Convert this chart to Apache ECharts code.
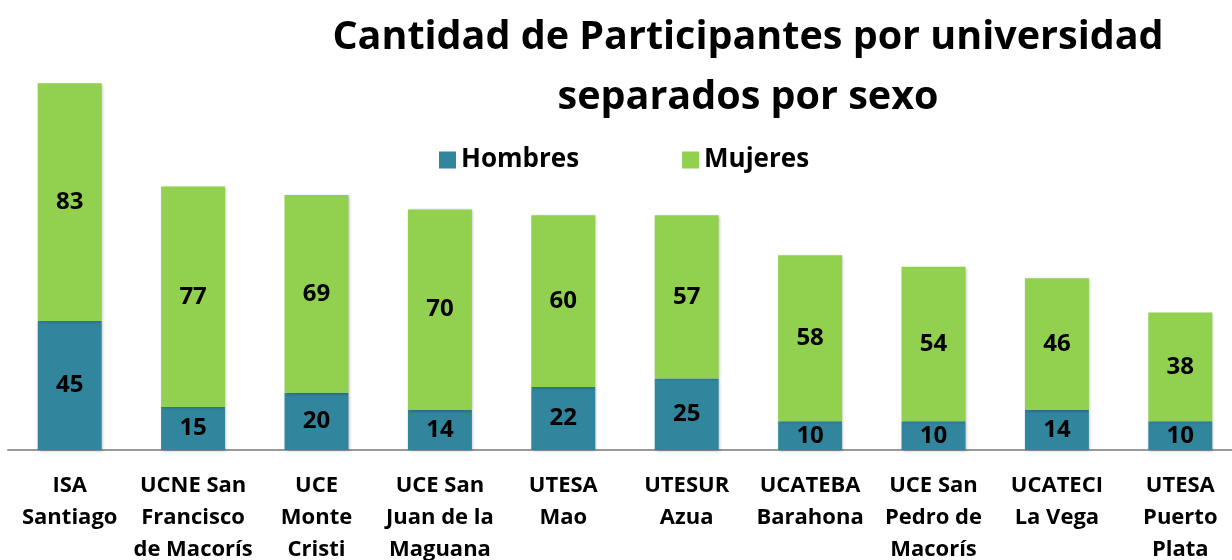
<!DOCTYPE html>
<html>
<head>
<meta charset="utf-8">
<script src="https://cdn.jsdelivr.net/npm/echarts@6/dist/echarts.min.js"></script>
<style>
    html, body { margin: 0; padding: 0; background: #fff; }
    #main { width: 1232px; height: 560px; }
</style>
</head>
<body>
<div id="main"></div>
<script>
var categories = ['ISA\nSantiago', 'UCNE San\nFrancisco\nde Macorís', 'UCE\nMonte\nCristi', 'UCE San\nJuan de la\nMaguana',
    'UTESA\nMao', 'UTESUR\nAzua', 'UCATEBA\nBarahona', 'UCE San\nPedro de\nMacorís', 'UCATECI\nLa Vega', 'UTESA\nPuerto\nPlata'];
var hombres = [45, 15, 20, 14, 22, 25, 10, 10, 14, 10];
var mujeres = [83, 77, 69, 70, 60, 57, 58, 54, 46, 38];

var fontName = '"Open Sans", sans-serif';

loadChart();

function loadChart() {
    var myChart = echarts.init(document.getElementById('main'));
    var labelStyle = {
        show: true,
        position: 'inside',
        color: '#000',
        fontFamily: fontName,
        fontWeight: 'bold',
        fontSize: 24
    };
    var option = {
        animation: false,
        title: {
            text: 'Cantidad de Participantes por universidad\nseparados por sexo',
            left: 743,
            top: 3,
            textAlign: 'center',
            textStyle: {
                fontFamily: fontName,
                fontWeight: 'bold',
                fontSize: 39.5,
                lineHeight: 60,
                color: '#000'
            }
        },
        legend: {
            data: ['Hombres', 'Mujeres'],
            left: 434,
            top: 142,
            itemWidth: 17,
            itemHeight: 17,
            itemGap: 103,
            icon: 'rect',
            textStyle: {
                fontFamily: fontName,
                fontWeight: 'bold',
                fontSize: 26,
                color: '#000'
            }
        },
        grid: {
            left: 8,
            right: -10,
            top: 49,
            bottom: 110,
            outerBoundsMode: 'none'
        },
        xAxis: {
            type: 'category',
            data: categories,
            axisLine: { lineStyle: { color: '#999', width: 2 } },
            axisTick: { show: false },
            axisLabel: {
                interval: 0,
                margin: 20,
                color: '#000',
                fontFamily: fontName,
                fontWeight: 'bold',
                fontSize: 22,
                lineHeight: 32
            }
        },
        yAxis: {
            type: 'value',
            min: 0,
            max: 140,
            show: false,
            splitLine: { show: false }
        },
        series: [
            {
                name: 'Hombres', type: 'bar', stack: 'total',
                barWidth: 64,
                itemStyle: { color: '#31859C', shadowColor: 'rgba(0,0,0,0.25)', shadowBlur: 3, shadowOffsetX: 1, shadowOffsetY: 1 },
                label: labelStyle,
                data: hombres
            },
            {
                name: 'Mujeres', type: 'bar', stack: 'total',
                barWidth: 64,
                itemStyle: { color: '#92D050', shadowColor: 'rgba(0,0,0,0.25)', shadowBlur: 3, shadowOffsetX: 1, shadowOffsetY: 1 },
                label: labelStyle,
                data: mujeres
            }
        ]
    };
    myChart.setOption(option);
}
</script>
</body>
</html>
